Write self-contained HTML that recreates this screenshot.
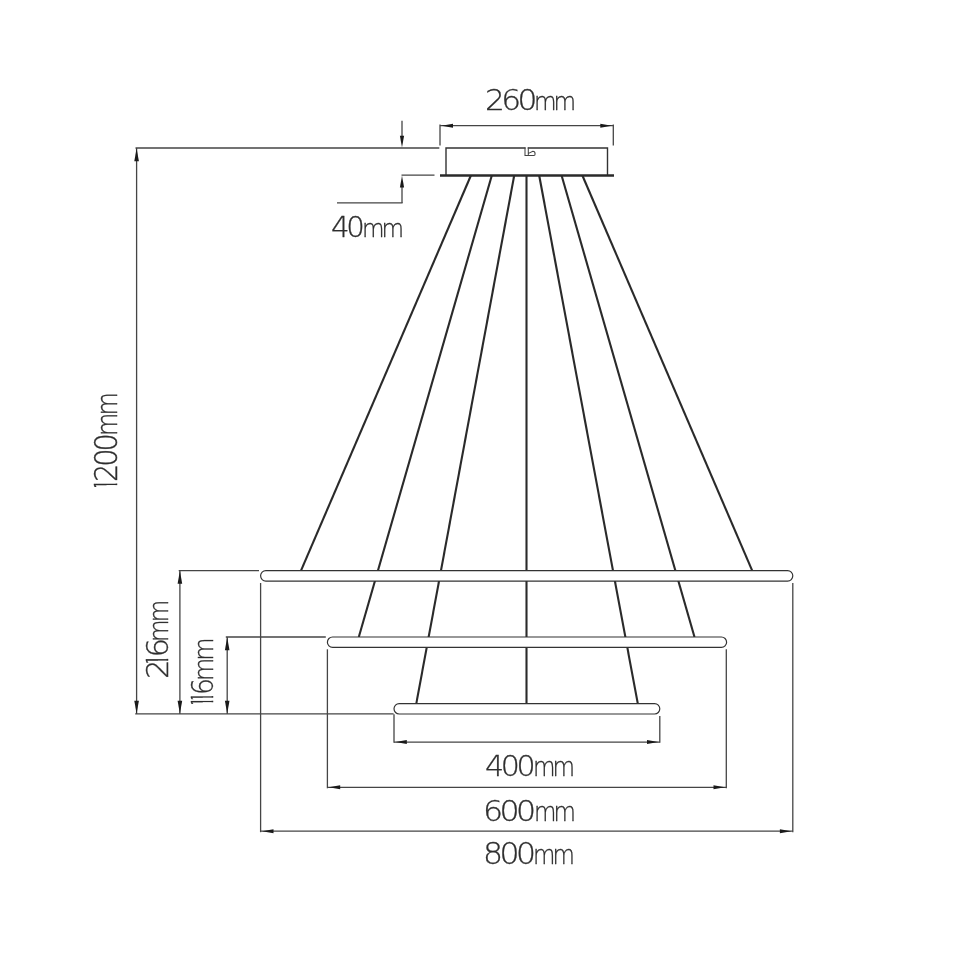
<!DOCTYPE html>
<html lang="en"><head><meta charset="utf-8"><title>Pendant lamp dimensions</title>
<style>
html,body{margin:0;padding:0;background:#fff}
body{width:970px;height:971px;position:relative;overflow:hidden}
svg{position:absolute;left:0;top:0;}
.lbl{position:absolute;white-space:nowrap;line-height:1;color:#2e2e2e;-webkit-text-stroke:.3px #2e2e2e;transform-origin:0 0;will-change:transform;
font-family:"DejaVu Sans Light","DejaVu Sans","Liberation Sans",sans-serif;font-weight:200}
.lbl span{display:inline-block;transform-origin:0 100%}
.one{display:inline-block;width:.17em;text-indent:-.24em;letter-spacing:0;clip-path:polygon(0 0,.126em 0,.126em 100%,.066em 100%,.066em 50%,0 50%)}

</style></head><body>
<svg width="970" height="971" viewBox="0 0 970 971">
<path d="M446,175.5 V148 H525.6 M527.7,148 H607.5 V175.5" fill="none" stroke="#333" stroke-width="1.4"/>
<path d="M525,147.4 V155.5 H533.9 Q535.1,155.5 535.1,154 Q535.1,151.3 532.8,151.3 L528.6,153.4 M528.3,155.5 V147.4" fill="none" stroke="#444" stroke-width="1.05"/>
<line x1="440" y1="175.5" x2="614" y2="175.5" stroke="#2a2a2a" stroke-width="2.6" stroke-linecap="butt"/>
<line x1="440" y1="124.4" x2="440" y2="145.6" stroke="#454545" stroke-width="1.3" stroke-linecap="butt"/>
<line x1="613.3" y1="124.4" x2="613.3" y2="145.6" stroke="#454545" stroke-width="1.3" stroke-linecap="butt"/>
<line x1="440" y1="125.7" x2="613.3" y2="125.7" stroke="#454545" stroke-width="1.3" stroke-linecap="butt"/>
<polygon points="441.5,125.7 453.0,123.8 453.0,127.7" fill="#1a1a1a"/>
<polygon points="611.8,125.7 600.3,123.8 600.3,127.7" fill="#1a1a1a"/>
<line x1="135.5" y1="148" x2="439.3" y2="148" stroke="#454545" stroke-width="1.3" stroke-linecap="butt"/>
<line x1="401.5" y1="175.2" x2="434.5" y2="175.2" stroke="#454545" stroke-width="1.3" stroke-linecap="butt"/>
<line x1="402" y1="120.8" x2="402" y2="140" stroke="#454545" stroke-width="1.3" stroke-linecap="butt"/>
<polygon points="402.0,147.6 399.9,135.8 404.1,135.8" fill="#1a1a1a"/>
<line x1="402" y1="186" x2="402" y2="203" stroke="#454545" stroke-width="1.3" stroke-linecap="butt"/>
<polygon points="402.0,175.8 399.9,187.6 404.1,187.6" fill="#1a1a1a"/>
<line x1="337" y1="202.8" x2="402.6" y2="202.8" stroke="#454545" stroke-width="1.3" stroke-linecap="butt"/>
<line x1="470.9" y1="175.5" x2="301" y2="570.6" stroke="#2a2a2a" stroke-width="2.1" stroke-linecap="butt"/>
<line x1="491.8" y1="175.5" x2="358.8" y2="637" stroke="#2a2a2a" stroke-width="2.1" stroke-linecap="butt"/>
<line x1="514.2" y1="175.5" x2="416.3" y2="703.6" stroke="#2a2a2a" stroke-width="2.1" stroke-linecap="butt"/>
<line x1="526.5" y1="175.5" x2="526.5" y2="703.6" stroke="#2a2a2a" stroke-width="2.1" stroke-linecap="butt"/>
<line x1="539.2" y1="175.5" x2="637.8" y2="703.6" stroke="#2a2a2a" stroke-width="2.1" stroke-linecap="butt"/>
<line x1="561.6" y1="175.5" x2="694.5" y2="637" stroke="#2a2a2a" stroke-width="2.1" stroke-linecap="butt"/>
<line x1="582.4" y1="175.5" x2="752.2" y2="570.6" stroke="#2a2a2a" stroke-width="2.1" stroke-linecap="butt"/>
<rect x="260.6" y="570.6" width="532.1999999999999" height="10.5" rx="5.25" ry="5.25" fill="#fff" stroke="#333" stroke-width="1.2"/>
<rect x="327.4" y="637" width="399.20000000000005" height="10.399999999999977" rx="5.199999999999989" ry="5.199999999999989" fill="#fff" stroke="#333" stroke-width="1.2"/>
<rect x="394" y="703.6" width="265.79999999999995" height="10.399999999999977" rx="5.199999999999989" ry="5.199999999999989" fill="#fff" stroke="#333" stroke-width="1.2"/>
<line x1="136.6" y1="148" x2="136.6" y2="713.9" stroke="#454545" stroke-width="1.3" stroke-linecap="butt"/>
<polygon points="136.6,148.2 134.3,161.2 138.9,161.2" fill="#1a1a1a"/>
<polygon points="136.6,713.7 134.3,700.7 138.9,700.7" fill="#1a1a1a"/>
<line x1="179.9" y1="570.6" x2="179.9" y2="713.9" stroke="#454545" stroke-width="1.3" stroke-linecap="butt"/>
<polygon points="179.9,570.8 177.6,583.8 182.2,583.8" fill="#1a1a1a"/>
<polygon points="179.9,713.7 177.6,700.7 182.2,700.7" fill="#1a1a1a"/>
<line x1="227.2" y1="637" x2="227.2" y2="713.9" stroke="#454545" stroke-width="1.3" stroke-linecap="butt"/>
<polygon points="227.2,637.2 224.9,650.2 229.5,650.2" fill="#1a1a1a"/>
<polygon points="227.2,713.7 224.9,700.7 229.5,700.7" fill="#1a1a1a"/>
<line x1="178.7" y1="570.6" x2="259" y2="570.6" stroke="#454545" stroke-width="1.3" stroke-linecap="butt"/>
<line x1="225.8" y1="637" x2="325.8" y2="637" stroke="#454545" stroke-width="1.3" stroke-linecap="butt"/>
<line x1="135.2" y1="713.9" x2="393.6" y2="713.9" stroke="#454545" stroke-width="1.3" stroke-linecap="butt"/>
<line x1="260.6" y1="583" x2="260.6" y2="832.2" stroke="#454545" stroke-width="1.3" stroke-linecap="butt"/>
<line x1="792.8" y1="583" x2="792.8" y2="832.2" stroke="#454545" stroke-width="1.3" stroke-linecap="butt"/>
<line x1="327.4" y1="649.3" x2="327.4" y2="788.3" stroke="#454545" stroke-width="1.3" stroke-linecap="butt"/>
<line x1="726.3" y1="649.3" x2="726.3" y2="788.3" stroke="#454545" stroke-width="1.3" stroke-linecap="butt"/>
<line x1="394" y1="714.3" x2="394" y2="742.8" stroke="#454545" stroke-width="1.3" stroke-linecap="butt"/>
<line x1="659.8" y1="716" x2="659.8" y2="742.8" stroke="#454545" stroke-width="1.3" stroke-linecap="butt"/>
<line x1="394" y1="742.1" x2="659.8" y2="742.1" stroke="#454545" stroke-width="1.3" stroke-linecap="butt"/>
<polygon points="395.3,742.1 406.8,740.1 406.8,744.1" fill="#1a1a1a"/>
<polygon points="658.5,742.1 647.0,740.1 647.0,744.1" fill="#1a1a1a"/>
<line x1="327.4" y1="787.3" x2="726.3" y2="787.3" stroke="#454545" stroke-width="1.3" stroke-linecap="butt"/>
<polygon points="328.7,787.3 340.2,785.3 340.2,789.2" fill="#1a1a1a"/>
<polygon points="725.0,787.3 713.5,785.3 713.5,789.2" fill="#1a1a1a"/>
<line x1="260.6" y1="831.2" x2="792.8" y2="831.2" stroke="#454545" stroke-width="1.3" stroke-linecap="butt"/>
<polygon points="262.0,831.2 273.5,829.2 273.5,833.2" fill="#1a1a1a"/>
<polygon points="791.4,831.2 779.9,829.2 779.9,833.2" fill="#1a1a1a"/>
</svg>
<div class="lbl" id="t260" style="left:484.88px;top:87.44px;transform:none"><span class="d" style="font-size:28.41px;transform:scaleX(1.099);letter-spacing:-3.3px">260</span><span class="m" style="font-size:25.36px;transform:scaleX(0.9141);letter-spacing:-3.3px;margin-left:4.8px">mm</span></div>
<div class="lbl" id="t40" style="left:331.48px;top:213.82px;transform:none"><span class="d" style="font-size:28.53px;transform:scaleX(1.0242);letter-spacing:-3.3px">40</span><span class="m" style="font-size:25.46px;transform:scaleX(0.9095);letter-spacing:-3.3px;margin-left:1.0px">mm</span></div>
<div class="lbl" id="t400" style="left:484.68px;top:752.14px;transform:none"><span class="d" style="font-size:28.9px;transform:scaleX(1.0407);letter-spacing:-3.3px">400</span><span class="m" style="font-size:25.79px;transform:scaleX(0.8967);letter-spacing:-3.3px;margin-left:3.2px">mm</span></div>
<div class="lbl" id="t600" style="left:482.68px;top:797.12px;transform:none"><span class="d" style="font-size:29.21px;transform:scaleX(1.0818);letter-spacing:-3.3px">600</span><span class="m" style="font-size:26.07px;transform:scaleX(0.8837);letter-spacing:-3.3px;margin-left:5.0px">mm</span></div>
<div class="lbl" id="t800" style="left:482.88px;top:839.87px;transform:none"><span class="d" style="font-size:29.32px;transform:scaleX(1.0739);letter-spacing:-3.3px">800</span><span class="m" style="font-size:26.17px;transform:scaleX(0.8792);letter-spacing:-3.3px;margin-left:4.0px">mm</span></div>
<div class="lbl" id="t1200" style="left:90.96px;top:486.62px;transform:rotate(-90deg)"><span class="d" style="font-size:31.16px;transform:scaleX(0.9254);letter-spacing:-3.3px"><span class="one">1</span>200</span><span class="m" style="font-size:27.81px;transform:scaleX(0.86);letter-spacing:-3.3px;margin-left:-3.4px">mm</span></div>
<div class="lbl" id="t216" style="left:143.12px;top:678.92px;transform:rotate(-90deg)"><span class="d" style="font-size:29.8px;transform:scaleX(1.0378);letter-spacing:-3.3px">2<span class="one">1</span>6</span><span class="m" style="font-size:26.60px;transform:scaleX(0.8694);letter-spacing:-3.3px;margin-left:0.8px">mm</span></div>
<div class="lbl" id="t116" style="left:187.82px;top:703.92px;transform:rotate(-90deg)"><span class="d" style="font-size:29.64px;transform:scaleX(0.9036);letter-spacing:-3.3px"><span class="one">1</span><span class="one">1</span>6</span><span class="m" style="font-size:26.45px;transform:scaleX(0.904);letter-spacing:-3.3px;margin-left:-2.4px">mm</span></div>
</body></html>
